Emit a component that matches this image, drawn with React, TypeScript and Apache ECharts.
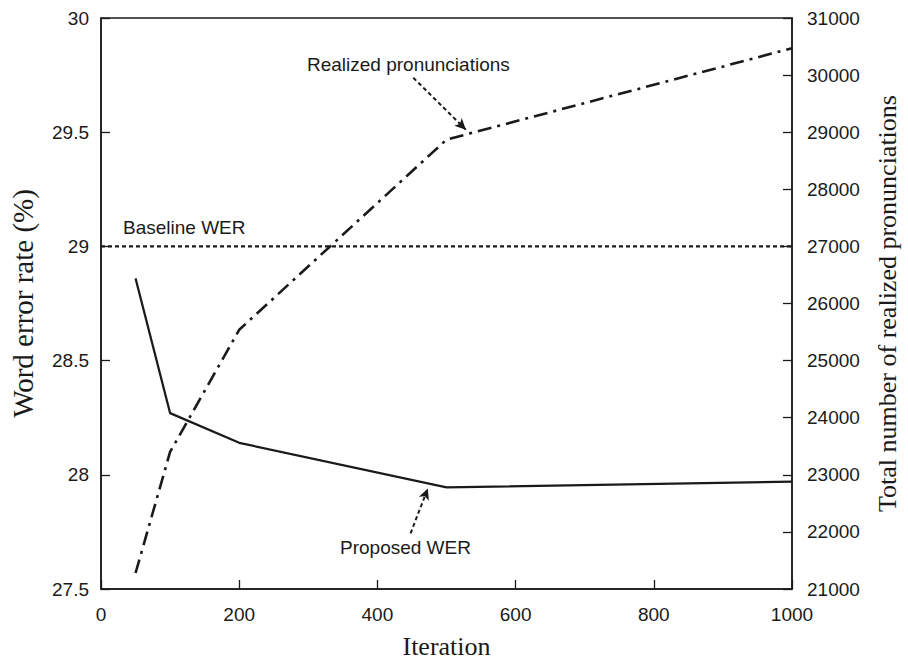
import React, { useEffect, useRef } from "react";
import * as echarts from "echarts";

const iterations = [50, 100, 200, 500, 1000];
const proposedWER = [28.86, 28.27, 28.14, 27.945, 27.97];
const realizedPron = [21280, 23400, 25540, 28870, 30470];
const baselineWER = 29;
const xRange = [0, 1000];

const sans = "'Liberation Sans', Arial, sans-serif";
const serif = "'Liberation Serif', 'Times New Roman', serif";
const ink = "#1a1a1a";
const plain = (v: number) => String(v);

export default function App() {
  const ref = useRef<HTMLDivElement>(null);
  useEffect(() => {
    if (!ref.current) return;
    const chart = echarts.init(ref.current, null, { renderer: "svg" });
    const axisCommon = {
      axisLine: { show: true, lineStyle: { color: ink, width: 1.5 } },
      axisTick: { show: true, inside: true, length: 9, lineStyle: { color: ink, width: 1.3 } },
      splitLine: { show: false },
      nameLocation: "middle" as const,
      nameTextStyle: { color: ink, fontFamily: serif, fontSize: 26 },
    };
    const label = { color: ink, fontFamily: sans, fontSize: 19, formatter: plain };
    chart.setOption({
      animation: false,
      backgroundColor: "#fff",
      grid: {
        left: 100,
        right: 111,
        top: 18,
        bottom: 73,
        show: true,
        borderColor: ink,
        borderWidth: 1.5,
        backgroundColor: "transparent",
      },
      xAxis: {
        type: "value",
        min: 0,
        max: 1000,
        interval: 200,
        name: "Iteration",
        nameGap: 44,
        ...axisCommon,
        axisLabel: { ...label, margin: 16 },
      },
      yAxis: [
        {
          type: "value",
          min: 27.5,
          max: 30,
          interval: 0.5,
          name: "Word error rate (%)",
          nameGap: 64,
          ...axisCommon,
          nameTextStyle: { color: ink, fontFamily: serif, fontSize: 29 },
          axisLabel: { ...label, margin: 12 },
        },
        {
          type: "value",
          position: "right",
          min: 21000,
          max: 31000,
          interval: 1000,
          name: "Total number of realized pronunciations",
          nameGap: 82,
          ...axisCommon,
          axisLabel: { ...label, margin: 15 },
        },
      ],
      series: [
        {
          name: "Proposed WER",
          type: "line",
          yAxisIndex: 0,
          data: iterations.map((x, i) => [x, proposedWER[i]]),
          showSymbol: false,
          lineStyle: { color: ink, width: 2.2 },
          markLine: {
            silent: true,
            symbol: ["none", "arrow"],
            symbolSize: [8, 11],
            label: { show: false },
            lineStyle: { color: ink, width: 2, type: [4, 3] },
            data: [[{ coord: [448, 27.744] }, { coord: [473, 27.94] }]],
          },
        },
        {
          name: "Baseline WER",
          type: "line",
          yAxisIndex: 0,
          data: xRange.map((x) => [x, baselineWER]),
          showSymbol: false,
          lineStyle: { color: ink, width: 2.2, type: [4, 3] },
        },
        {
          name: "Realized pronunciations",
          type: "line",
          yAxisIndex: 1,
          data: iterations.map((x, i) => [x, realizedPron[i]]),
          showSymbol: false,
          lineStyle: { color: ink, width: 2.6, type: [14, 6, 3, 6] },
          markLine: {
            silent: true,
            symbol: ["none", "arrow"],
            symbolSize: [8, 11],
            label: { show: false },
            lineStyle: { color: ink, width: 2, type: [4, 3] },
            data: [[{ coord: [452, 29953] }, { coord: [528, 29045] }]],
          },
        },
      ],
      graphic: [
        {
          type: "text",
          left: 307,
          top: 55,
          style: { text: "Realized pronunciations", font: `19px ${sans}`, fill: ink },
        },
        {
          type: "text",
          left: 123,
          top: 218,
          style: { text: "Baseline WER", font: `19px ${sans}`, fill: ink },
        },
        {
          type: "text",
          left: 340,
          top: 538,
          style: { text: "Proposed WER", font: `19px ${sans}`, fill: ink },
        },
      ],
    });
    return () => chart.dispose();
  }, []);
  return (
    <div
      ref={ref}
      style={{ position: "fixed", left: 0, top: 0, width: 908, height: 664, background: "#fff" }}
    />
  );
}
